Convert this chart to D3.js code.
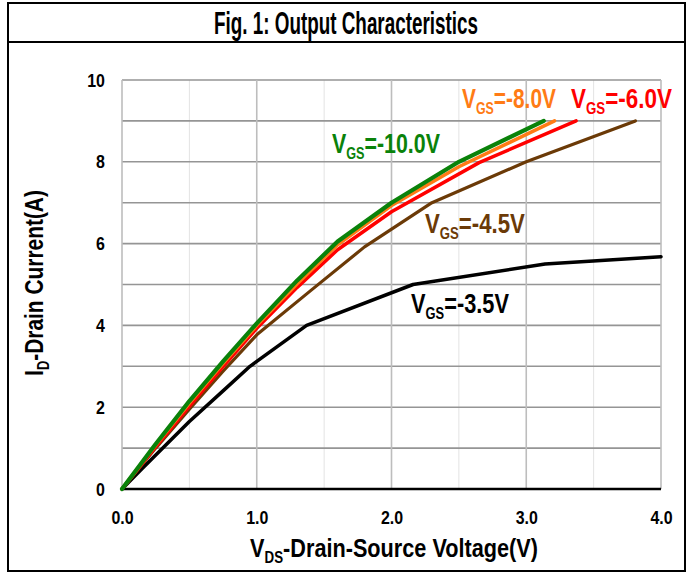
<!DOCTYPE html>
<html><head><meta charset="utf-8">
<script src="https://cdn.jsdelivr.net/npm/d3@7"></script>
<style>
body{margin:0;background:#fff;}
svg{display:block;}
text{font-family:"Liberation Sans",Arial,sans-serif;font-weight:bold;}
</style></head><body>
<svg id="c" width="692" height="574"></svg>
<script>
// ---- data ----
const xTicks = [0, 1, 2, 3, 4];
const yTicks = [0, 2, 4, 6, 8, 10];
const vgsLabels = ["-10.0V", "-8.0V", "-6.0V", "-4.5V", "-3.5V"];

const vds10 = [0, 0.25, 0.5, 0.75, 1.0, 1.3, 1.6, 2.0, 2.5, 3.13];
const id10  = [0, 1.1, 2.15, 3.12, 4.05, 5.1, 6.05, 7.0, 8.0, 9.0];

const vds8 = [0, 0.25, 0.5, 0.75, 1.0, 1.3, 1.6, 2.0, 2.5, 3.21];
const id8  = [0, 1.08, 2.1, 3.07, 4.0, 5.02, 5.97, 6.93, 7.88, 9.0];

const vds6 = [0, 0.25, 0.5, 0.75, 1.0, 1.3, 1.6, 2.0, 2.65, 3.37];
const id6  = [0, 1.03, 2.02, 2.99, 3.93, 4.93, 5.85, 6.78, 7.98, 9.0];

const vds45 = [0, 0.25, 0.5, 0.75, 1.0, 1.4, 1.8, 2.3, 3.0, 3.81];
const id45  = [0, 1.0, 1.95, 2.88, 3.77, 4.85, 5.92, 7.0, 8.0, 9.0];

const vds35 = [0, 0.15, 0.5, 0.75, 0.95, 1.37, 2.16, 3.14, 4.0];
const id35  = [0, 0.5, 1.65, 2.4, 3.0, 4.0, 5.0, 5.5, 5.68];

// ---- build ----
const svg = d3.select("#c");
const x = d3.scaleLinear().domain([0, 4]).range([122, 661]);
const y = d3.scaleLinear().domain([0, 10]).range([489, 80]);

function zip(a, b) { return a.map((v, i) => ({ v: v, i: b[i] })); }
const series = [
  { label: vgsLabels[4], color: "#000000", w: 3.5, pts: zip(vds35, id35) },
  { label: vgsLabels[3], color: "#6b3a07", w: 3.2, pts: zip(vds45, id45) },
  { label: vgsLabels[2], color: "#ff0000", w: 3.5, pts: zip(vds6, id6) },
  { label: vgsLabels[1], color: "#ff7b15", w: 3.5, pts: zip(vds8, id8) },
  { label: vgsLabels[0], color: "#0a820a", w: 4.2, pts: zip(vds10, id10) }
];

// frame
svg.append("rect").attr("x", 8).attr("y", 3).attr("width", 677).attr("height", 568)
  .attr("fill", "none").attr("stroke", "#000").attr("stroke-width", 2);
svg.append("line").attr("x1", 8).attr("x2", 685).attr("y1", 42).attr("y2", 42)
  .attr("stroke", "#000").attr("stroke-width", 2);

// grid
const grid = svg.append("g");
const minorX = d3.range(0.5, 4, 1);
grid.selectAll(".mx").data(minorX).enter().append("line")
  .attr("x1", d => x(d)).attr("x2", d => x(d)).attr("y1", y(0)).attr("y2", y(10))
  .attr("stroke", "#e3e3e3").attr("stroke-width", 1);
grid.selectAll(".hy").data(d3.range(1, 11, 1)).enter().append("line")
  .attr("x1", x(0)).attr("x2", x(4)).attr("y1", d => y(d)).attr("y2", d => y(d))
  .attr("stroke", "#959595").attr("stroke-width", 1.6);
grid.selectAll(".vx").data(xTicks).enter().append("line")
  .attr("x1", d => x(d)).attr("x2", d => x(d)).attr("y1", y(0)).attr("y2", y(10))
  .attr("stroke", "#bdbdbd").attr("stroke-width", 1.6);
// bottom axis line
svg.append("line").attr("x1", x(0)).attr("x2", x(4)).attr("y1", y(0)).attr("y2", y(0))
  .attr("stroke", "#000").attr("stroke-width", 2.6);

// axes labels via d3 axes
const K = 0.84; // horizontal compression (narrow face)
const ax = svg.append("g").attr("transform", `translate(0,${y(0)})`)
  .call(d3.axisBottom(x).tickValues(xTicks).tickFormat(d3.format(".1f")).tickSize(0).tickPadding(22));
ax.select(".domain").remove();
ax.selectAll("text").attr("font-size", 19).attr("fill", "#000").attr("font-family", null)
  .attr("transform", `scale(${K},1)`);
const ay = svg.append("g").attr("transform", `translate(${x(0)},0)`)
  .call(d3.axisLeft(y).tickValues(yTicks).tickFormat(d3.format("d")).tickSize(0));
ay.select(".domain").remove();
ay.selectAll(".tick text").attr("font-size", 19).attr("fill", "#000").attr("font-family", null)
  .attr("x", -17 / K).attr("transform", `scale(${K},1)`);

// lines
const line = d3.line().x(d => x(d.v)).y(d => y(d.i));
svg.append("g").selectAll("path").data(series).enter().append("path")
  .attr("d", d => line(d.pts)).attr("fill", "none")
  .attr("stroke", d => d.color).attr("stroke-width", d => d.w)
  .attr("stroke-linejoin", "round").attr("stroke-linecap", "round");

// text helper: fits natural width to target width
function fitted(parent, px, py, width, size, anchor, rotate) {
  const g = parent.append("g").attr("transform", `translate(${px},${py})` + (rotate ? ` rotate(${rotate})` : ""));
  const t = g.append("text").attr("font-size", size).attr("text-anchor", anchor || "start");
  return { g, t, fit: function () {
    const bw = t.node().getComputedTextLength();
    if (bw > 0) t.attr("transform", `scale(${width / bw},1)`);
  } };
}

// title
const title = fitted(svg, 346, 34, 264, 32, "middle");
title.t.text("Fig. 1: Output Characteristics");
title.fit();

// x axis title
const xt = fitted(svg, 394, 557, 288, 26, "middle");
xt.t.append("tspan").text("V");
xt.t.append("tspan").attr("font-size", 16).attr("dy", 6).text("DS");
xt.t.append("tspan").attr("dy", -6).text("-Drain-Source Voltage(V)");
xt.fit();

// y axis title
const yt = fitted(svg, 43, 283, 186, 26, "middle", -90);
yt.t.append("tspan").text("I");
yt.t.append("tspan").attr("font-size", 16).attr("dy", 6).text("D");
yt.t.append("tspan").attr("dy", -6).text("-Drain Current(A)");
yt.fit();

// curve labels
const labelPos = [
  { px: 332, py: 153, w: 108 },
  { px: 462, py: 108, w: 94 },
  { px: 571, py: 108, w: 101 },
  { px: 425, py: 233, w: 100 },
  { px: 411, py: 313, w: 98 }
];
const lbls = [series[4], series[3], series[2], series[1], series[0]];
lbls.forEach((s, k) => {
  const p = labelPos[k];
  const L = fitted(svg, p.px, p.py, p.w, 27, "start");
  L.t.attr("fill", s.color);
  L.t.append("tspan").text("V");
  L.t.append("tspan").attr("font-size", 16).attr("dy", 6).text("GS");
  L.t.append("tspan").attr("dy", -6).text("=" + s.label);
  L.fit();
});
</script>
</body></html>
